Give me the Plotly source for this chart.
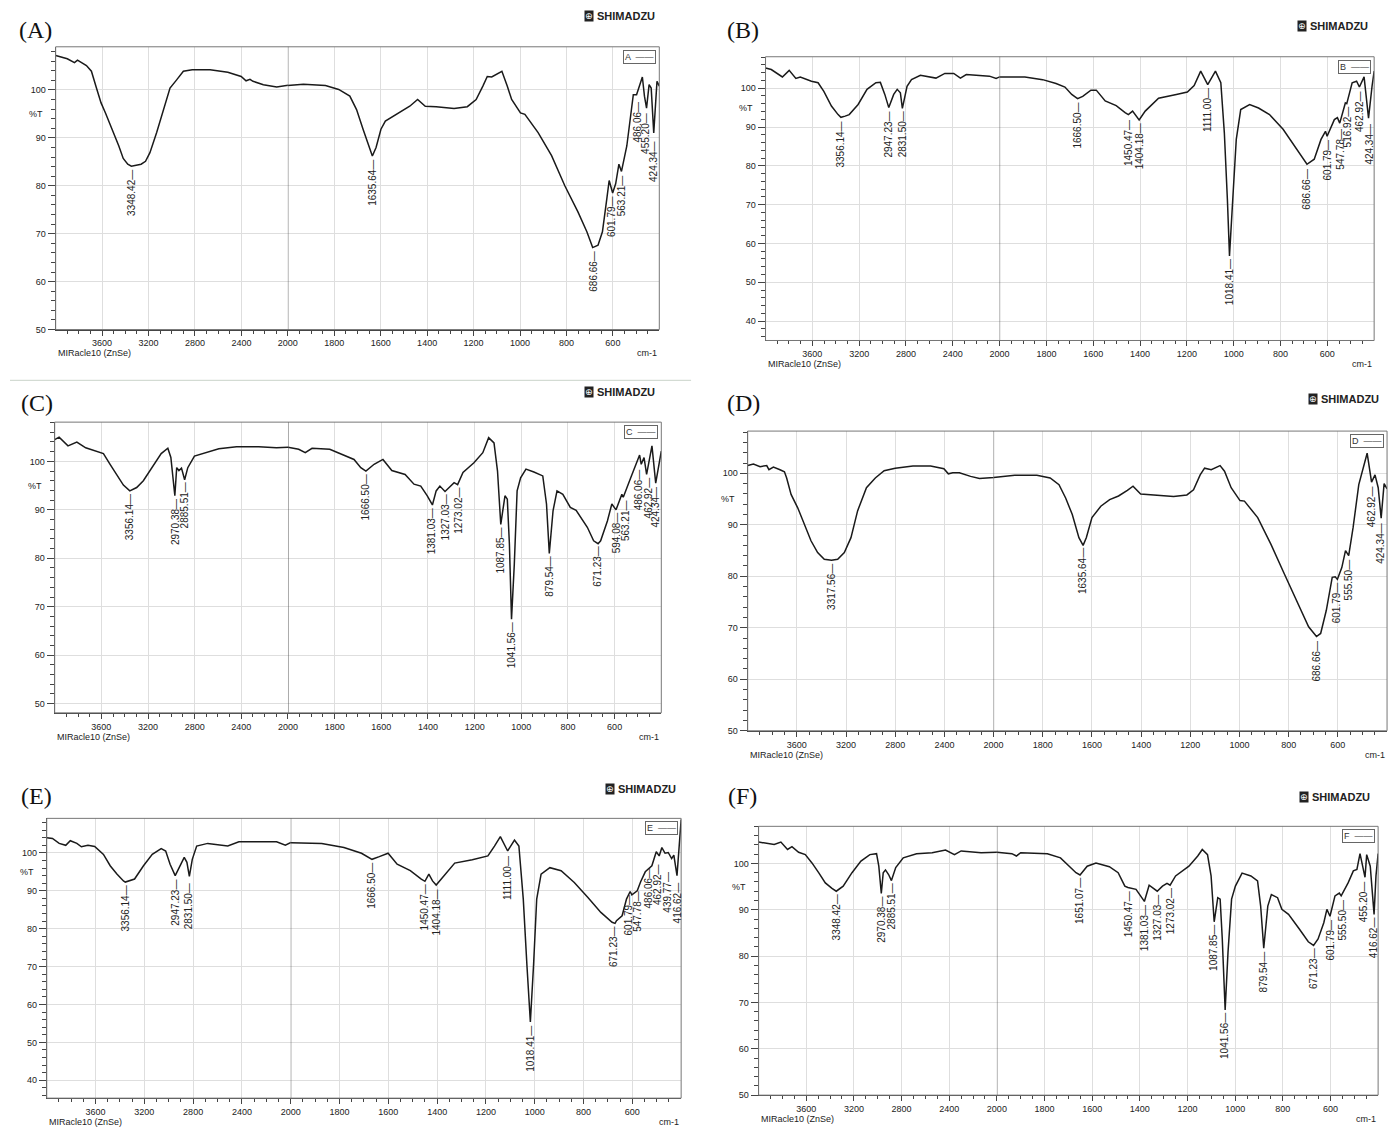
import plotly.graph_objects as go

# ---------------- data (wavenumber cm-1, %T) ----------------
A_wn = [4000, 3900, 3838, 3812, 3735, 3692, 3650, 3609, 3571, 3513, 3456, 3418, 3379, 3348, 3300, 3264, 3226, 3188,
        3130, 3073, 3015, 2958, 2900, 2824, 2670, 2517, 2402, 2360, 2326, 2300, 2211, 2096, 2000, 1933, 1838, 1781,
        1733, 1704, 1676, 1651, 1636, 1620, 1599, 1580, 1532, 1475, 1441, 1408, 1361, 1284, 1227, 1189, 1160, 1141,
        1122, 1094, 1078, 1055, 1036, 998, 979, 922, 864, 807, 750, 712, 687, 664, 645, 626, 616, 601, 588, 574,
        563, 540, 525, 512, 498, 487, 473, 464, 455, 444, 435, 424, 410, 400]
A_T = [107.2, 106.5, 105.7, 106.2, 105.1, 103.9, 100.5, 97.3, 95.2, 91.8, 88.3, 85.7, 84.5, 84.1, 84.3, 84.5, 85.1, 86.9,
       91.1, 95.9, 100.4, 102.1, 103.9, 104.2, 104.2, 103.7, 102.8, 101.9, 102.2, 101.8, 101.1, 100.6, 100.9, 101.2,
       100.9, 100.1, 98.7, 95.9, 91.8, 88.3, 86.2, 88.0, 91.8, 93.5, 94.9, 96.6, 98.0, 96.6, 96.5, 96.1, 96.5, 98.0,
       100.8, 102.8, 102.7, 103.4, 103.9, 100.8, 98.0, 95.2, 94.9, 91.1, 86.3, 80.0, 74.5, 70.4, 67.1, 67.6, 70.4,
       77.3, 81.1, 78.5, 80.4, 84.5, 83.0, 88.3, 93.5, 99.0, 99.0, 100.8, 102.7, 98.7, 96.2, 101.1, 100.4, 91.0,
       101.8, 100.8]

B_wn = [4000, 3951, 3856, 3798, 3741, 3703, 3608, 3551, 3502, 3437, 3380, 3356, 3320, 3285, 3209, 3133, 3057, 3019,
        2981, 2947, 2905, 2875, 2848, 2831, 2791, 2753, 2677, 2544, 2468, 2392, 2335, 2285, 2087, 2030, 2000, 1892,
        1816, 1759, 1721, 1692, 1667, 1645, 1610, 1587, 1549, 1502, 1464, 1450, 1432, 1404, 1378, 1321, 1245, 1198,
        1169, 1141, 1111, 1078, 1055, 1040, 1027, 1018, 1004, 989, 970, 932, 894, 847, 789, 732, 687, 656, 627, 608,
        601, 570, 557, 547, 523, 517, 494, 475, 463, 443, 424, 409, 400]
B_T = [105.2, 104.8, 102.9, 104.6, 102.5, 102.9, 101.8, 101.4, 99.2, 95.4, 93.2, 92.5, 92.8, 93.2, 95.8, 99.7, 101.4,
       101.5, 98.4, 95.0, 98.4, 99.7, 98.8, 94.8, 100.5, 102.2, 103.3, 102.6, 103.8, 103.8, 102.6, 103.5, 103.1, 102.5,
       102.9, 102.9, 102.2, 101.2, 100.3, 98.4, 97.3, 97.9, 99.5, 99.5, 96.7, 95.5, 93.7, 93.2, 94.1, 91.8, 94.1, 97.4,
       98.4, 99.0, 100.7, 104.4, 100.9, 104.4, 101.4, 88.5, 71.4, 56.8, 71.4, 86.8, 94.5, 95.8, 94.9, 93.2, 89.4, 84.2,
       80.4, 81.7, 86.8, 88.9, 87.6, 91.9, 92.4, 91.0, 96.2, 96.0, 101.4, 101.8, 100.3, 102.9, 92.3, 100.5, 104.4]

C_wn = [4000, 3962, 3886, 3810, 3734, 3639, 3582, 3525, 3468, 3411, 3356, 3297, 3240, 3164, 3087, 3030, 3004, 2970,
        2954, 2935, 2913, 2886, 2859, 2802, 2707, 2593, 2441, 2251, 2099, 2000, 1954, 1926, 1897, 1821, 1764, 1717,
        1688, 1666, 1631, 1593, 1555, 1498, 1460, 1431, 1403, 1381, 1365, 1349, 1327, 1288, 1273, 1250, 1203, 1165,
        1140, 1117, 1102, 1088, 1070, 1060, 1051, 1042, 1030, 1018, 1003, 980, 946, 908, 892, 880, 864, 847, 822, 790,
        765, 717, 690, 671, 660, 631, 612, 594, 569, 563, 531, 508, 493, 486, 474, 463, 440, 424, 400]
C_T = [104.5, 105.0, 103.2, 104.0, 102.8, 102.0, 101.6, 99.4, 97.3, 95.1, 93.9, 94.6, 96.0, 98.7, 101.6, 102.7, 100.8,
       92.9, 98.7, 98.1, 98.6, 96.2, 98.7, 101.1, 101.8, 102.6, 103.0, 103.0, 102.8, 102.9, 102.5, 101.8, 102.7, 102.5,
       101.4, 100.4, 98.7, 98.0, 99.4, 100.4, 98.1, 97.3, 95.3, 94.9, 92.9, 91.0, 93.9, 94.9, 93.8, 95.6, 95.2, 97.7,
       99.7, 101.8, 104.9, 103.8, 98.0, 87.0, 92.9, 92.2, 82.9, 67.4, 78.8, 93.9, 96.6, 98.4, 97.8, 97.0, 91.2, 81.0,
       89.8, 93.9, 93.2, 90.5, 89.9, 86.4, 83.6, 83.0, 83.6, 87.7, 91.2, 90.0, 93.2, 92.6, 96.6, 99.4, 101.3, 99.4,
       100.8, 97.3, 103.2, 95.5, 102.1]

D_wn = [4000, 3953, 3899, 3845, 3827, 3791, 3737, 3701, 3683, 3647, 3593, 3539, 3485, 3431, 3377, 3318, 3268, 3214,
        3160, 3106, 3034, 2962, 2890, 2800, 2656, 2512, 2404, 2368, 2332, 2278, 2187, 2115, 2000, 1914, 1824, 1770,
        1734, 1707, 1680, 1653, 1636, 1623, 1600, 1564, 1528, 1492, 1456, 1433, 1402, 1339, 1268, 1214, 1187, 1160,
        1142, 1115, 1079, 1061, 1034, 998, 980, 926, 872, 818, 764, 719, 687, 670, 647, 623, 611, 602, 584, 569, 556,
        538, 515, 494, 481, 463, 449, 436, 424, 412, 400]
D_T = [101.5, 101.8, 101.3, 101.5, 100.7, 101.2, 100.7, 100.3, 99.1, 95.9, 93.3, 90.1, 86.9, 84.6, 83.3, 83.1, 83.3,
       84.6, 87.5, 92.7, 97.2, 99.1, 100.5, 101.0, 101.4, 101.4, 100.9, 99.9, 100.1, 100.1, 99.4, 99.0, 99.2, 99.6,
       99.6, 99.1, 97.8, 95.2, 92.0, 87.5, 86.0, 87.5, 91.4, 93.6, 94.9, 95.6, 96.7, 97.5, 96.0, 95.8, 95.5, 95.8, 96.8,
       99.7, 101.0, 100.7, 101.5, 100.4, 97.2, 94.7, 94.6, 91.4, 86.2, 80.5, 74.7, 70.2, 68.3, 68.9, 73.4, 79.8, 79.9,
       79.4, 81.7, 85.0, 84.0, 89.5, 97.8, 101.4, 103.9, 98.3, 99.7, 97.2, 91.3, 98.0, 97.0]

E_wn = [4000, 3953, 3898, 3844, 3807, 3753, 3716, 3662, 3607, 3535, 3480, 3425, 3371, 3356, 3280, 3207, 3135, 3062,
        3025, 2989, 2947, 2909, 2873, 2851, 2831, 2807, 2771, 2680, 2516, 2425, 2316, 2116, 2044, 2000, 1873, 1782,
        1710, 1667, 1637, 1601, 1564, 1510, 1465, 1450, 1434, 1419, 1404, 1383, 1328, 1256, 1192, 1165, 1141, 1111,
        1083, 1065, 1047, 1032, 1018, 1005, 992, 974, 938, 892, 838, 783, 729, 683, 671, 665, 642, 624, 609, 602, 580,
        566, 547, 520, 502, 490, 479, 466, 453, 439, 430, 417, 407, 400]
E_T = [104.0, 103.8, 102.5, 102.0, 103.2, 102.5, 101.6, 102.0, 101.7, 99.6, 96.6, 94.4, 92.6, 92.3, 93.1, 96.6, 99.6,
       101.1, 100.5, 97.0, 94.0, 96.6, 98.8, 97.5, 93.8, 98.3, 101.8, 102.5, 101.8, 102.9, 102.9, 102.9, 102.0, 102.7,
       102.5, 101.4, 99.9, 98.3, 99.0, 99.9, 97.0, 95.3, 93.1, 92.5, 94.4, 92.6, 91.5, 93.1, 97.3, 98.2, 99.2, 101.8,
       104.3, 100.5, 103.4, 101.8, 87.8, 70.3, 55.4, 70.3, 87.8, 94.4, 96.1, 95.3, 92.2, 88.3, 84.3, 81.7, 81.4, 82.1,
       83.4, 87.8, 89.8, 88.9, 90.0, 92.4, 95.0, 96.6, 100.3, 99.2, 101.4, 99.9, 100.1, 98.5, 99.4, 94.0, 102.7, 108.8]

F_wn = [4000, 3925, 3869, 3813, 3757, 3720, 3664, 3608, 3552, 3496, 3440, 3384, 3348, 3290, 3216, 3141, 3066, 3010,
        2991, 2970, 2954, 2935, 2909, 2885, 2849, 2786, 2674, 2543, 2431, 2356, 2300, 2132, 2000, 1937, 1918, 1900,
        1788, 1733, 1696, 1668, 1651, 1621, 1584, 1528, 1491, 1463, 1450, 1416, 1381, 1361, 1327, 1305, 1286, 1273,
        1250, 1194, 1157, 1138, 1116, 1101, 1088, 1073, 1063, 1054, 1042, 1030, 1015, 999, 971, 934, 906, 893, 880,
        863, 848, 822, 804, 776, 730, 693, 671, 652, 628, 615, 602, 581, 563, 555, 526, 504, 489, 476, 455, 448, 433,
        417, 409, 400]
F_T = [104.6, 104.4, 104.1, 104.6, 103.0, 103.6, 102.4, 101.9, 100.1, 98.0, 95.8, 94.6, 94.0, 95.1, 98.0, 100.5, 101.9,
       102.1, 99.4, 93.5, 98.0, 98.6, 97.6, 96.3, 99.1, 101.2, 102.1, 102.3, 102.9, 101.9, 102.7, 102.3, 102.4, 102.1,
       101.6, 102.3, 102.1, 101.2, 99.4, 98.0, 97.5, 99.4, 100.1, 99.3, 98.0, 95.1, 94.8, 94.4, 91.8, 95.3, 94.0, 95.1,
       95.7, 95.3, 97.3, 99.4, 101.6, 103.0, 101.9, 97.3, 87.4, 92.6, 92.3, 83.7, 68.4, 80.8, 92.3, 95.1, 97.9, 97.3,
       96.2, 90.8, 81.7, 90.8, 93.3, 92.6, 90.1, 89.0, 85.8, 83.1, 82.3, 83.7, 87.2, 90.1, 88.6, 93.0, 93.6, 93.0,
       95.8, 98.4, 98.7, 102.1, 97.0, 101.9, 99.4, 89.0, 97.3, 102.1]

# peak labels: (text, wavenumber where label is printed, %T at label top)
A_peaks = [("3348.42", 3348, 83.8), ("1635.64", 1636, 85.9), ("686.66", 687, 66.9), ("601.79", 603, 78.2),
           ("563.21", 563, 82.6), ("486.06", 498, 98.0), ("455.20", 460, 95.6), ("424.34", 422, 89.7)]
B_peaks = [("3356.14", 3356, 91.9), ("2947.23", 2945, 94.5), ("2831.50", 2827, 94.5), ("1666.50", 1667, 96.7),
           ("1450.47", 1450, 92.4), ("1404.18", 1404, 91.5), ("1111.00", 1111, 100.5), ("1018.41", 1018, 56.6),
           ("686.66", 687, 79.9), ("601.79", 601, 87.2), ("547.78", 542, 90.2), ("516.92", 510, 95.8),
           ("462.92", 460, 99.7), ("424.34", 418, 91.5)]
C_peaks = [("3356.14", 3356, 93.6), ("2970.38", 2970, 92.6), ("2885.51", 2886, 96.0), ("1666.50", 1666, 97.7),
           ("1381.03", 1381, 90.8), ("1327.03", 1327, 93.6), ("1273.02", 1273, 94.9), ("1087.85", 1088, 86.7),
           ("1041.56", 1042, 67.1), ("879.54", 880, 80.9), ("671.23", 671, 82.9), ("594.08", 594, 89.8),
           ("563.21", 556, 92.5), ("486.06", 499, 98.7), ("462.92", 457, 97.0), ("424.34", 423, 95.3)]
D_peaks = [("3317.56", 3318, 82.7), ("1635.64", 1636, 85.9), ("686.66", 687, 67.9), ("601.79", 602, 79.2),
           ("555.50", 556, 83.7), ("462.92", 465, 97.8), ("424.34", 424, 90.7)]
E_peaks = [("3356.14", 3356, 92.0), ("2947.23", 2947, 93.5), ("2831.50", 2831, 92.6), ("1666.50", 1667, 97.9),
           ("1450.47", 1454, 92.2), ("1404.18", 1404, 90.9), ("1111.00", 1111, 99.6), ("1018.41", 1018, 55.0),
           ("671.23", 680, 81.3), ("601.79", 615, 89.6), ("547.78", 579, 90.5), ("486.06", 535, 96.6),
           ("462.92", 494, 97.5), ("439.77", 454, 95.7), ("416.62", 417, 92.6)]
F_peaks = [("3348.42", 3348, 93.8), ("2970.38", 2970, 93.3), ("2885.51", 2885, 96.2), ("1651.07", 1651, 97.3),
           ("1450.47", 1450, 94.4), ("1381.03", 1381, 91.5), ("1327.03", 1327, 93.7), ("1273.02", 1273, 95.1),
           ("1087.85", 1088, 87.2), ("1041.56", 1042, 68.2), ("879.54", 880, 81.5), ("671.23", 671, 82.2),
           ("601.79", 600, 88.3), ("555.50", 550, 92.6), ("455.20", 461, 96.6), ("416.62", 420, 88.8)]

PANELS = ["A", "B", "C", "D", "E", "F"]
WN = {"A": A_wn, "B": B_wn, "C": C_wn, "D": D_wn, "E": E_wn, "F": F_wn}
TT = {"A": A_T, "B": B_T, "C": C_T, "D": D_T, "E": E_T, "F": F_T}
PK = {"A": A_peaks, "B": B_peaks, "C": C_peaks, "D": D_peaks, "E": E_peaks, "F": F_peaks}
YRANGE = {"A": (50, 109.0), "B": (35, 108.1), "C": (48.1, 108.1), "D": (50, 108.2), "E": (35.3, 109.1), "F": (50, 108.0)}
X_TICKS_HI = [3600, 3200, 2800, 2400]
X_TICKS_LO = [2000, 1800, 1600, 1400, 1200, 1000, 800, 600]

# ---------------- layout (pixels of the 1395x1133 page) ----------------
W, H = 1395, 1133
FRAME = {"A": (46, 654, 47, 331), "B": (761, 1374, 57, 342), "C": (45, 656, 424, 716),
         "D": (743, 1387, 433, 734), "E": (37, 676, 822, 1103), "F": (754, 1378, 830, 1100)}
TITLE_POS = {"A": (26, 30), "B": (738, 30), "C": (27, 405), "D": (739, 405), "E": (27, 800), "F": (738, 800)}
LOGO_POS = {"A": (578, 16), "B": (1296, 26), "C": (578, 394), "D": (1307, 401), "E": (599, 792), "F": (1298, 801)}
SPLIT = 2000.0 / 5200.0   # 4000-2000 drawn at half scale of 2000-400

TICKFONT = dict(family="Liberation Sans Narrow, Arial Narrow, Liberation Sans, Arial", size=9, color="#222")
LBLFONT = dict(family="Liberation Sans, Arial", size=10, color="#222")
GRID = "#dedede"
AX = "#444"


def fx(x):
    return x / W


def fy(y):
    return 1 - y / H


def ref(letter, n):
    return letter if n == 1 else f"{letter}{n}"


fig = go.Figure()
lay = {}
ann = []
shapes = []

for i, p in enumerate(PANELS):
    L, R, T, B = FRAME[p]
    xs = L + SPLIT * (R - L)
    n1, n2, ny = 2 * i + 1, 2 * i + 2, i + 1
    x1r, x2r, yr = ref("x", n1), ref("x", n2), ref("y", ny)

    for xr in (x1r, x2r):
        fig.add_trace(go.Scatter(x=WN[p], y=TT[p], mode="lines", xaxis=xr, yaxis=yr,
                                 line=dict(color="#1a1a1a", width=1.5), hoverinfo="skip", showlegend=False))

    common_x = dict(anchor=yr, ticks="outside", ticklen=5, tickwidth=1, tickcolor=AX, showline=True,
                    linecolor=AX, linewidth=1, showgrid=True, gridcolor=GRID, gridwidth=1, zeroline=False,
                    tickfont=TICKFONT, tickmode="array", fixedrange=True)
    lay["xaxis" + ("" if n1 == 1 else str(n1))] = dict(
        domain=[fx(L), fx(xs)], range=[4000, 2000], tickvals=X_TICKS_HI,
        minor=dict(tickvals=[v for v in range(2100, 4000, 100) if v not in X_TICKS_HI],
                   ticks="outside", ticklen=3, tickcolor=AX, showgrid=False), **common_x)
    lay["xaxis" + str(n2)] = dict(
        domain=[fx(xs), fx(R)], range=[2000, 400], tickvals=X_TICKS_LO,
        minor=dict(tickvals=[v for v in range(450, 2000, 50) if v not in X_TICKS_LO],
                   ticks="outside", ticklen=3, tickcolor=AX, showgrid=False), **common_x)
    lay["yaxis" + ("" if ny == 1 else str(ny))] = dict(
        domain=[fy(B), fy(T)], range=list(YRANGE[p]), anchor=x1r, tick0=0, dtick=10,
        ticks="outside", ticklen=7, tickcolor=AX, showline=True, linecolor=AX, linewidth=1,
        showgrid=True, gridcolor=GRID, zeroline=False, tickfont=TICKFONT, fixedrange=True,
        minor=dict(tick0=0, dtick=2, ticks="outside", ticklen=4, tickcolor=AX, showgrid=False))

    # frame and the 2000 cm-1 scale change line
    shapes.append(dict(type="rect", xref="paper", yref="paper", x0=fx(L), x1=fx(R), y0=fy(B), y1=fy(T),
                       line=dict(color="#777", width=1)))
    shapes.append(dict(type="line", xref=x2r, yref=yr + " domain", x0=2000, x1=2000, y0=0, y1=1,
                       line=dict(color="#555", width=1)))

    # peak labels
    for txt, lx, top in PK[p]:
        ann.append(dict(text=txt + "\u2014", x=lx, y=top, xref=(x2r if lx <= 2000 else x1r), yref=yr,
                        textangle=-90, xanchor="center", yanchor="top", showarrow=False, font=LBLFONT))

    # panel text
    tx, ty = TITLE_POS[p]
    ann.append(dict(text=f"({p})", x=fx(tx), y=fy(ty), xref="paper", yref="paper", showarrow=False,
                    xanchor="center", yanchor="middle",
                    font=dict(family="Liberation Serif, Times New Roman", size=24, color="#111")))
    lx0, ly0 = LOGO_POS[p]
    ann.append(dict(text="\u2295", x=fx(lx0), y=fy(ly0), xref="paper", yref="paper", showarrow=False,
                    xanchor="left", yanchor="middle", bgcolor="#222", borderpad=0,
                    font=dict(family="DejaVu Sans", size=9, color="white")))
    ann.append(dict(text="<b>SHIMADZU</b>", x=fx(lx0 + 11), y=fy(ly0), xref="paper", yref="paper",
                    showarrow=False, xanchor="left", yanchor="middle",
                    font=dict(family="Liberation Sans, Arial", size=11, color="#222")))
    ann.append(dict(text=f"{p}  \u2014\u2014", x=fx(R - 3), y=fy(T + 3), xref="paper", yref="paper",
                    showarrow=False, xanchor="right", yanchor="top", bgcolor="white", bordercolor="#666",
                    borderwidth=1, borderpad=1, font=dict(family="Liberation Sans, Arial", size=9, color="#333")))
    ann.append(dict(text="%T", x=fx(L - 20), y=95, xref="paper", yref=yr, showarrow=False,
                    xanchor="center", yanchor="middle", font=TICKFONT))
    ann.append(dict(text="MIRacle10 (ZnSe)", x=fx(L), y=fy(B + 24), xref="paper", yref="paper",
                    showarrow=False, xanchor="left", yanchor="middle", font=TICKFONT))
    ann.append(dict(text="cm-1", x=fx(R), y=fy(B + 24), xref="paper", yref="paper",
                    showarrow=False, xanchor="right", yanchor="middle", font=TICKFONT))

# faint separator line under panel A
shapes.append(dict(type="line", xref="paper", yref="paper", x0=0, x1=fx(686), y0=fy(382), y1=fy(382),
                   line=dict(color="#c9d3c9", width=1)))

fig.update_layout(width=W, height=H, margin=dict(l=0, r=0, t=0, b=0), paper_bgcolor="white",
                  plot_bgcolor="white", showlegend=False, annotations=ann, shapes=shapes, **lay)
fig.write_html("out.html", config={"displayModeBar": False},
               post_script="document.body.style.margin='0px';document.body.style.overflow='hidden';")
